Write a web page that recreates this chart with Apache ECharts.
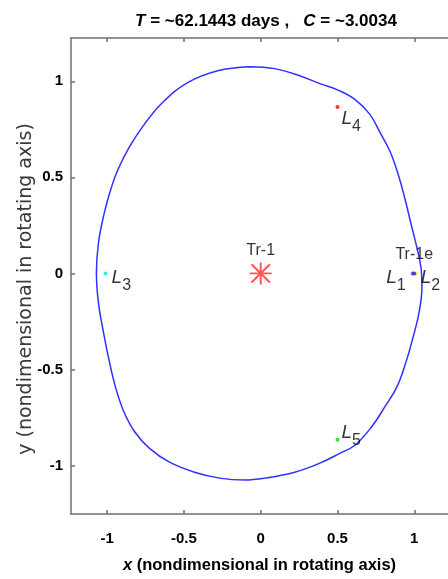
<!DOCTYPE html>
<html>
<head>
<meta charset="utf-8">
<script src="https://cdn.jsdelivr.net/npm/echarts@6/dist/echarts.min.js"></script>
<style>
html,body{margin:0;padding:0;background:#fff;}
#chart{width:448px;height:579px;}
</style>
</head>
<body>
<div id="chart"></div>
<script>
// Orbit (nondimensional, rotating frame)
const orbitX = [-0.072, 0.091, 0.254, 0.385, 0.496, 0.613, 0.711, 0.776, 0.841, 0.894, 0.939, 0.978, 1.018, 1.044, 1.050, 1.031, 0.992, 0.946, 0.887, 0.809, 0.724, 0.613, 0.515, 0.385, 0.222, 0.026, -0.104, -0.267, -0.431, -0.594, -0.724, -0.822, -0.894, -0.946, -0.985, -1.024, -1.057, -1.070, -1.057, -1.024, -0.985, -0.933, -0.855, -0.757, -0.639, -0.476, -0.280, -0.072];
const orbitY = [1.076, 1.066, 1.029, 0.988, 0.957, 0.906, 0.828, 0.735, 0.637, 0.519, 0.390, 0.261, 0.132, 0.028, -0.075, -0.204, -0.333, -0.462, -0.591, -0.694, -0.797, -0.895, -0.937, -0.988, -1.035, -1.066, -1.076, -1.066, -1.035, -0.983, -0.911, -0.823, -0.715, -0.591, -0.462, -0.307, -0.152, 0.003, 0.157, 0.297, 0.415, 0.534, 0.658, 0.777, 0.890, 0.993, 1.055, 1.076];

// Lagrange points
const lagNames = ['1', '2', '3', '4', '5'];
const lagX = [0.99, 1.01, -1.01, 0.5, 0.5];
const lagY = [0, 0, 0, 0.866, -0.866];
const lagColors = ['#cc00ff', '#ffee00', '#00e5ee', '#ff0000', '#00dd00'];

// Bodies
const bodyNames = ['Tr-1', 'Tr-1e'];
const bodyX = [0, 1.0];
const bodyY = [0, 0];

// Axis ticks
const xTicks = [-1, -0.5, 0, 0.5, 1];
const yTicks = [-1, -0.5, 0, 0.5, 1];

const NARROW = "'Liberation Sans Narrow', 'Arial Narrow', 'Liberation Sans', sans-serif";
const AXC = '#707070';

const asterisk = 'path://M9.1 0L10.9 0L10.9 20L9.1 20Z M0 9.1L20 9.1L20 10.9L0 10.9Z M2.3 1.0L19.0 17.7L17.7 19.0L1.0 2.3Z M17.7 1.0L19.0 2.3L2.3 19.0L1.0 17.7Z';

const orbitData = orbitX.map((x, i) => [x, orbitY[i]]);

const lRich = {
  L: {fontFamily: "'Liberation Sans', sans-serif", fontStyle: 'italic', fontSize: 19, lineHeight: 20, color: '#000'},
  s: {fontFamily: "'Liberation Sans', sans-serif", fontSize: 16, lineHeight: 16, padding: [16, 0, 0, 0], color: '#000'}
};
const lLabelPos = [
  {position: 'left', distance: 5, offset: [0, 4]},
  {position: 'right', distance: 3, offset: [0, 4]},
  {position: 'right', distance: 4, offset: [0, 4]},
  {position: 'right', distance: 2, offset: [0, 12]},
  {position: 'right', distance: 2, offset: [0, -7]}
];
const lagData = lagX.map((x, i) => ({
  value: [x, lagY[i]],
  itemStyle: {color: lagColors[i]},
  label: Object.assign({show: true, formatter: '{L|L}{s|' + lagNames[i] + '}', rich: lRich}, lLabelPos[i])
}));

const bodyData = [
  {value: [bodyX[0], bodyY[0]], symbol: asterisk, symbolSize: 22, itemStyle: {color: '#ff2a2a'},
   label: {show: true, formatter: bodyNames[0], position: 'top', distance: 4, fontSize: 16, fontFamily: "'Liberation Sans', sans-serif", color: '#000'}},
  {value: [bodyX[1], bodyY[1]], symbol: 'circle', symbolSize: 4, itemStyle: {color: '#2020ff'},
   label: {show: true, formatter: bodyNames[1], position: 'top', distance: 9, fontSize: 16, fontFamily: "'Liberation Sans', sans-serif", color: '#000'}}
];

const chart = echarts.init(document.getElementById('chart'), null, {renderer: 'canvas'});
chart.setOption({
  backgroundColor: '#fff',
  animation: false,
  title: {
    text: '{i|T} = ~62.1443 days ,   {i|C} = ~3.0034',
    left: 261, top: 8, textAlign: 'center',
    textStyle: {
      fontFamily: NARROW, fontWeight: 'bold', fontSize: 17, color: '#000',
      rich: {i: {fontFamily: NARROW, fontWeight: 'bold', fontStyle: 'italic', fontSize: 17, color: '#000'}}
    }
  },
  grid: {left: 71, top: 38, right: 0, bottom: 61, containLabel: false},
  xAxis: [{
    type: 'value', min: -1.2355, max: 1.2198, position: 'bottom',
    name: '{i|x} (nondimensional in rotating axis)', nameLocation: 'middle', nameGap: 43, nameMoveOverlap: false,
    nameTextStyle: {fontFamily: NARROW, fontWeight: 'bold', fontSize: 16.5, color: '#000',
      rich: {i: {fontFamily: NARROW, fontWeight: 'bold', fontStyle: 'italic', fontSize: 16.5, color: '#000'}}},
    axisLine: {show: true, onZero: false, lineStyle: {color: AXC, width: 1.5}},
    axisTick: {show: true, inside: true, length: 4, customValues: xTicks, lineStyle: {color: AXC, width: 1.5}},
    axisLabel: {show: true, customValues: xTicks, margin: 17, fontFamily: NARROW, fontWeight: 'bold', fontSize: 15, color: '#000'},
    splitLine: {show: false}
  }, {
    type: 'value', min: -1.2355, max: 1.2198, position: 'top',
    axisLine: {show: true, onZero: false, lineStyle: {color: AXC, width: 1.5}},
    axisTick: {show: true, inside: true, length: 4, customValues: xTicks, lineStyle: {color: AXC, width: 1.5}},
    axisLabel: {show: false},
    splitLine: {show: false}
  }],
  yAxis: [{
    type: 'value', min: -1.2528, max: 1.2255, position: 'left',
    name: 'y (nondimensional in rotating axis)', nameLocation: 'middle', nameGap: 35, nameRotate: 90, nameMoveOverlap: false,
    nameTextStyle: {fontFamily: "'DejaVu Sans', sans-serif", fontSize: 19, color: '#3a3a3a', padding: [0, 26, 0, 0]},
    axisLine: {show: true, onZero: false, lineStyle: {color: AXC, width: 1.5}},
    axisTick: {show: true, inside: true, length: 4, customValues: yTicks, lineStyle: {color: AXC, width: 1.5}},
    axisLabel: {show: true, customValues: yTicks, margin: 8, fontFamily: NARROW, fontWeight: 'bold', fontSize: 15, color: '#000'},
    splitLine: {show: false}
  }],
  series: [{
    type: 'line', data: orbitData, smooth: 0.4, symbol: 'none',
    lineStyle: {color: '#3030ff', width: 1.5}, z: 2
  }, {
    type: 'scatter', data: lagData, symbol: 'circle', symbolSize: 4, z: 3
  }, {
    type: 'scatter', data: bodyData, z: 4
  }]
});
</script>
</body>
</html>
